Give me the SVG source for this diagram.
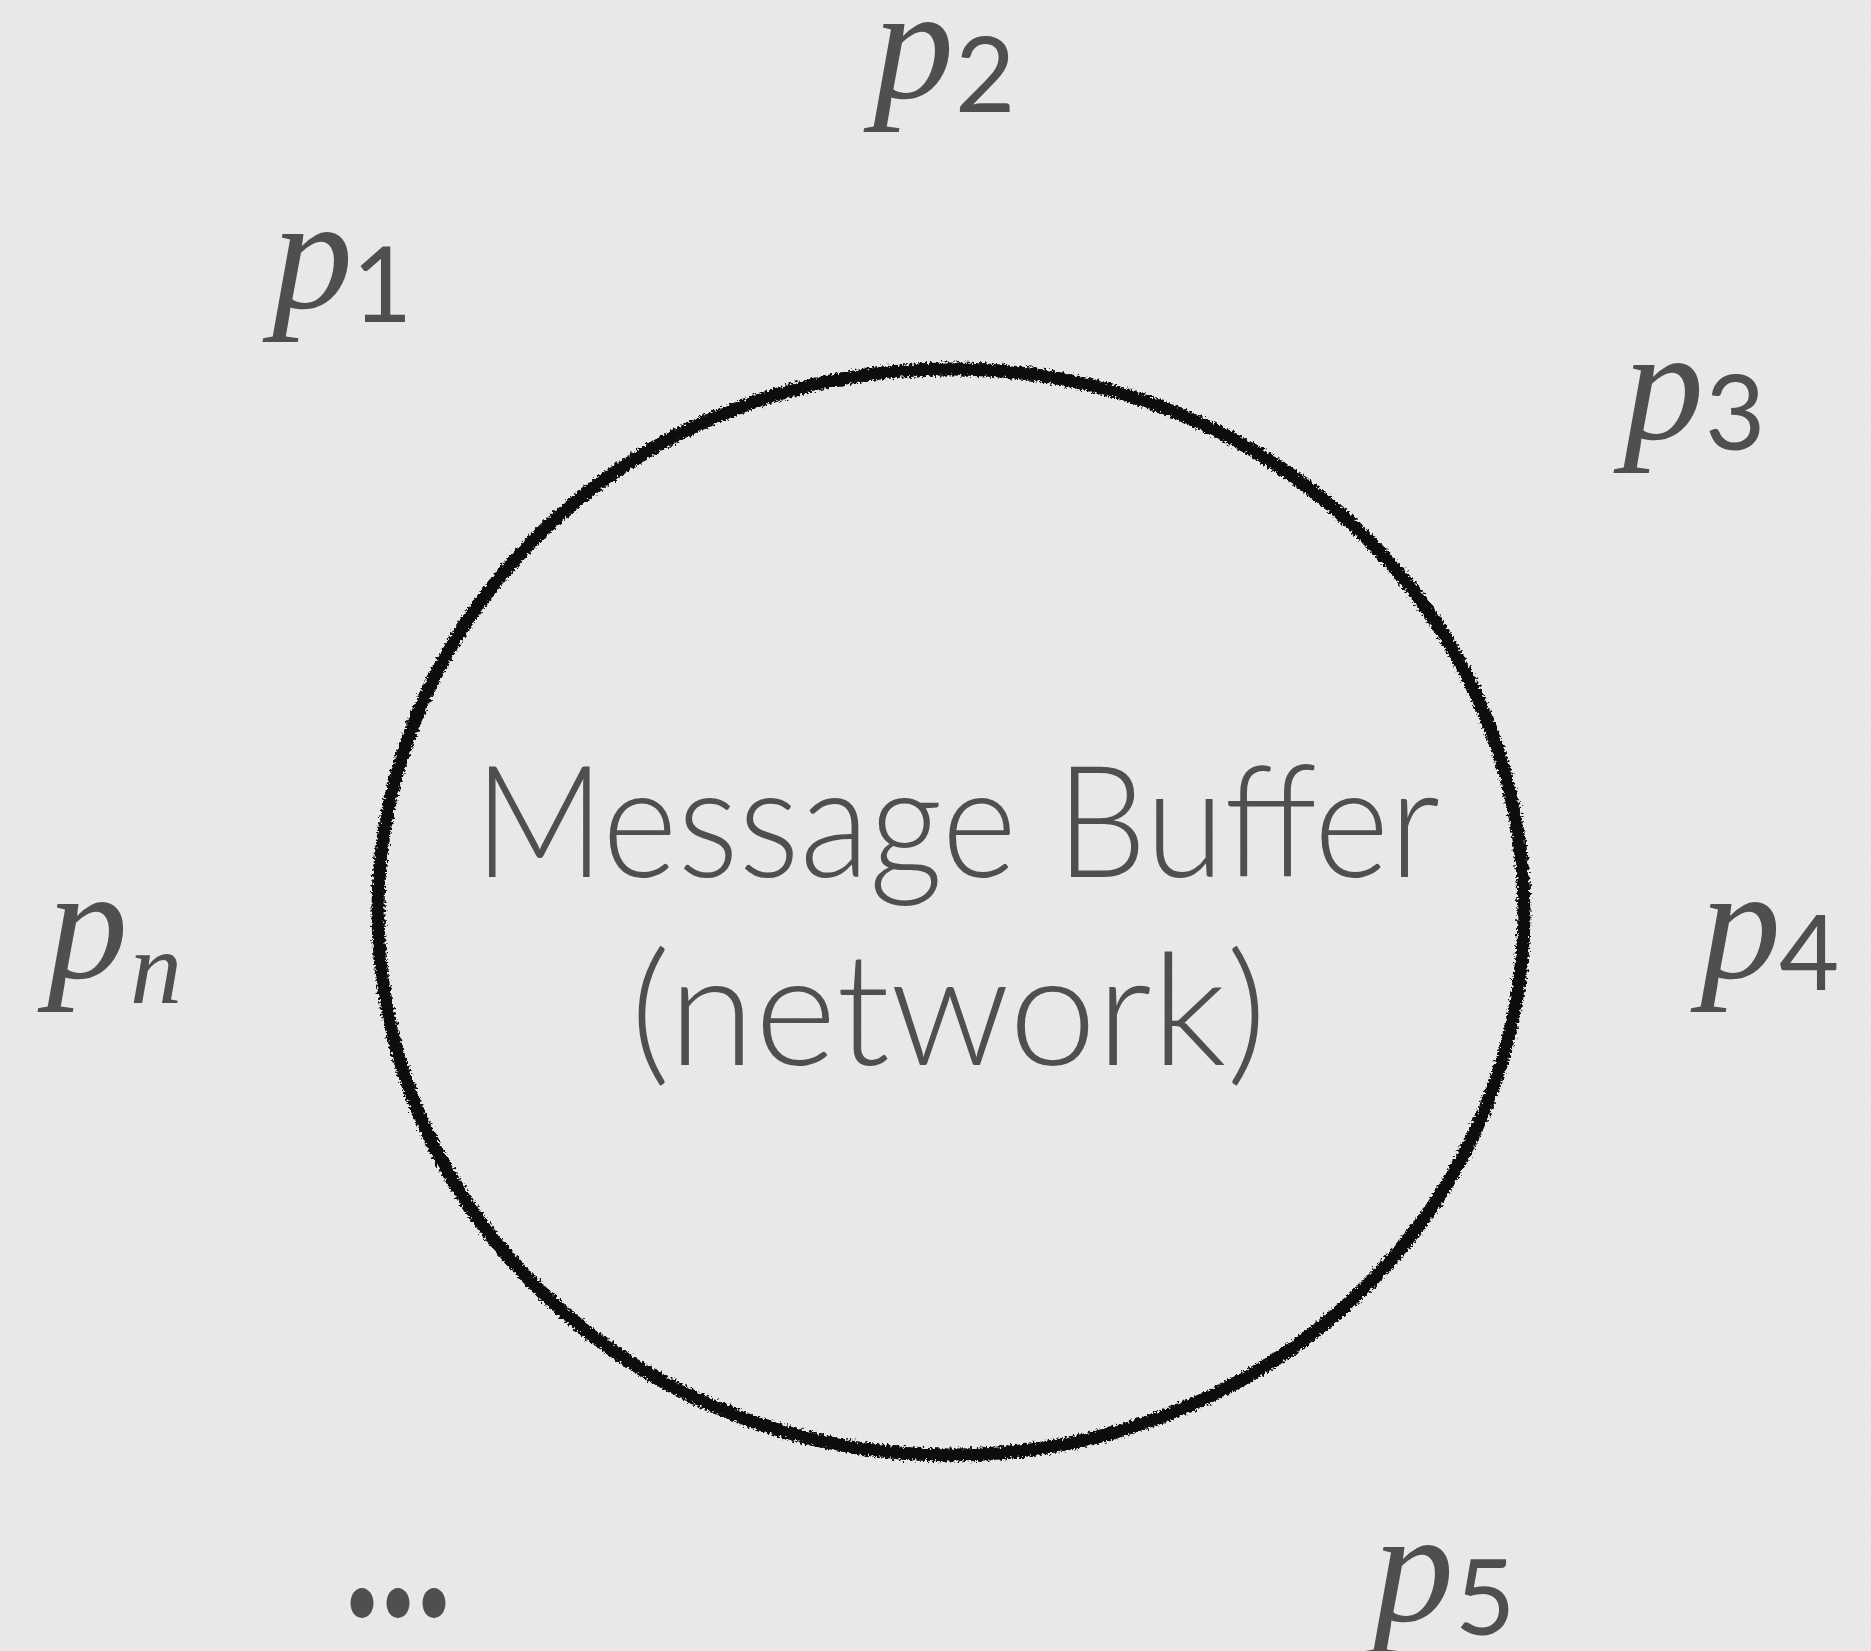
<svg xmlns="http://www.w3.org/2000/svg" width="1871" height="1651" viewBox="0 0 1871 1651">
  <defs>
    <filter id="paper" x="0" y="0" width="100%" height="100%">
      <feTurbulence type="fractalNoise" baseFrequency="0.9" numOctaves="2" seed="3" result="n"/>
      <feColorMatrix in="n" type="matrix" values="0 0 0 0 0.45  0 0 0 0 0.45  0 0 0 0 0.45  0 0 0 0.12 0" result="c"/>
      <feComposite in="c" in2="SourceGraphic" operator="over"/>
    </filter>
    <filter id="rough" x="-5%" y="-5%" width="110%" height="110%">
      <feTurbulence type="fractalNoise" baseFrequency="0.4" numOctaves="2" seed="7" result="t"/>
      <feDisplacementMap in="SourceGraphic" in2="t" scale="8" xChannelSelector="R" yChannelSelector="G"/>
    </filter>
  </defs>
  <style>
    .p { font-family: "Liberation Serif", "Times New Roman", serif; font-style: italic; font-size: 162px; fill: #4f4f4f; }
    .sub { font-family: "Lato", "Open Sans", sans-serif; font-weight: 400; font-size: 104px; fill: #4f4f4f; }
    .subi { font-family: "Liberation Serif", "Times New Roman", serif; font-style: italic; font-size: 104px; fill: #4f4f4f; }
    .big { font-family: "Lato", "Open Sans", sans-serif; font-weight: 300; font-size: 156px; fill: #4f4f4f; }
    .ring { fill: none; stroke: #0a0a0a; stroke-width: 13; }
  </style>
  <rect width="1871" height="1651" fill="#ebebeb" filter="url(#paper)"/>

  <g id="buffer">
    <ellipse class="ring" cx="951" cy="912" rx="573" ry="543" filter="url(#rough)"/>
    <text class="big" x="474" y="877" textLength="966" lengthAdjust="spacingAndGlyphs">Message Buffer</text>
    <text class="big" x="630" y="1065" textLength="637" lengthAdjust="spacingAndGlyphs">(network)</text>
  </g>

  <g id="p1">
    <text class="p" x="272" y="308">p</text>
    <text class="sub" x="352" y="322">1</text>
  </g>
  <g id="p2">
    <text class="p" x="873" y="98">p</text>
    <text class="sub" x="955" y="112">2</text>
  </g>
  <g id="p3">
    <text class="p" x="1623" y="439">p</text>
    <text class="sub" x="1705" y="450">3</text>
  </g>
  <g id="p4">
    <text class="p" x="1700" y="978">p</text>
    <text class="sub" x="1779" y="990">4</text>
  </g>
  <g id="p5">
    <text class="p" x="1373" y="1621">p</text>
    <text class="sub" x="1455" y="1635">5</text>
  </g>
  <g id="pn">
    <text class="p" x="47" y="978">p</text>
    <text class="subi" x="130" y="1003">n</text>
  </g>
  <g id="dots">
    <text class="big" x="344" y="1617" textLength="108" lengthAdjust="spacingAndGlyphs" style="font-weight:700;font-size:200px">...</text>
  </g>

  <g id="connectors"></g>
</svg>
